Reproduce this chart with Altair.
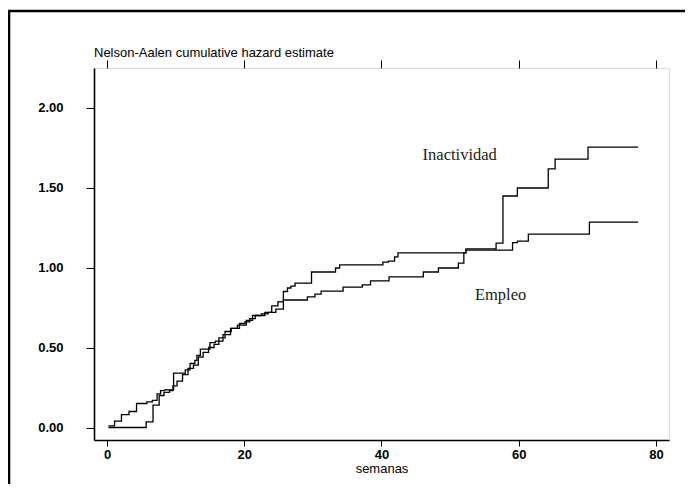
import altair as alt
import pandas as pd

# ---- data ----
inac_wk = [0.2, 1.1, 2.1, 3.2, 4.3, 5.8, 6.6, 7.3, 7.8, 8.4, 9.7, 11.4, 12.1, 12.8, 13.1, 13.6, 15.0, 15.8, 16.9, 18.0,
           19.0, 20.3, 21.2, 23.0, 24.0, 24.9, 25.7, 29.2, 30.3, 31.2, 34.4, 37.2, 38.4, 41.1, 46.1, 48.3, 51.2, 52.0, 52.3, 56.7,
           57.7, 59.8, 64.3, 65.3, 70.1, 77.4]
inac_hz = [0.01, 0.04, 0.08, 0.10, 0.15, 0.16, 0.17, 0.21, 0.23, 0.235, 0.34, 0.36, 0.40, 0.42, 0.45, 0.49, 0.53, 0.54, 0.58, 0.62,
           0.64, 0.67, 0.70, 0.72, 0.76, 0.785, 0.797, 0.816, 0.834, 0.853, 0.878, 0.891, 0.916, 0.941, 0.972, 0.997, 1.028, 1.091, 1.116, 1.153,
           1.447, 1.497, 1.616, 1.678, 1.753, 1.753]

emp_wk = [0.2, 5.7, 6.7, 7.6, 8.3, 9.1, 9.6, 10.2, 11.0, 11.8, 12.6, 13.3, 14.0, 14.8, 15.6, 16.3, 17.2, 18.1, 19.3, 20.1,
          20.8, 21.6, 22.5, 23.5, 24.6, 25.7, 26.3, 26.8, 27.4, 29.8, 33.3, 33.9, 40.2, 41.0, 41.9, 42.4, 52.3, 59.1, 59.8, 61.4,
          70.3, 77.4]
emp_hz = [0.0, 0.035, 0.14, 0.20, 0.22, 0.23, 0.26, 0.29, 0.33, 0.37, 0.39, 0.44, 0.47, 0.50, 0.52, 0.56, 0.60, 0.62, 0.65, 0.66,
          0.68, 0.70, 0.71, 0.72, 0.74, 0.85, 0.872, 0.884, 0.903, 0.972, 0.997, 1.016, 1.034, 1.040, 1.066, 1.091, 1.109, 1.155, 1.165, 1.209,
          1.284, 1.284]

label_text = ["Inactividad", "Empleo"]
label_wk = [51.4, 57.35]
label_hz = [1.672, 0.797]

title_text = ["Nelson-Aalen cumulative hazard estimate"]

x_ticks = [0, 20, 40, 60, 80]
y_ticks = [0, 0.5, 1.0, 1.5, 2.0]

lines = pd.concat([
    pd.DataFrame({"wk": inac_wk, "hz": inac_hz, "serie": "Inactividad"}),
    pd.DataFrame({"wk": emp_wk, "hz": emp_hz, "serie": "Empleo"}),
])
labels = pd.DataFrame({"wk": label_wk, "hz": label_hz, "txt": label_text})

SANS = "Liberation Sans"
xscale = alt.Scale(domain=[-1.9, 81.9], nice=False, zero=False)
yscale = alt.Scale(domain=[-0.078, 2.247], nice=False, zero=False)

y_axis = alt.Axis(
    orient="left", values=y_ticks, format=".2f", title=None,
    labelFont=SANS, labelFontSize=13, labelFontWeight="bold", labelColor="black",
    labelPadding=23, tickSize=8, tickColor="black", domainColor="black", domainWidth=1.6,
    grid=False)

line_layer = alt.Chart(lines).mark_line(interpolate="step-after", color="black", strokeWidth=1.3).encode(
    x=alt.X("wk:Q", scale=xscale, axis=alt.Axis(
        orient="bottom", values=x_ticks, format="d", title="semanas",
        labelFont=SANS, labelFontSize=13, labelFontWeight="bold", labelColor="black",
        labelPadding=2, tickSize=6, tickColor="black", domainColor="black", domainWidth=1.6,
        titleFont=SANS, titleFontSize=13, titleFontWeight="normal", titleColor="black", titlePadding=1,
        grid=False)),
    y=alt.Y("hz:Q", scale=yscale, axis=y_axis),
    detail="serie:N",
)

text_layer = alt.Chart(labels).mark_text(font="Liberation Serif", fontSize=16.5, color="#222",
                                         align="center", baseline="alphabetic").encode(
    x=alt.X("wk:Q", scale=xscale, axis=alt.Axis(
        orient="top", values=x_ticks, labels=False, title=None, domain=False,
        tickSize=8, tickColor="black", grid=False)),
    y=alt.Y("hz:Q", scale=yscale, axis=y_axis),
    text="txt:N",
)

title_layer = alt.Chart(pd.DataFrame({"t": title_text})).mark_text(
    font=SANS, fontSize=13, color="black", align="left", baseline="alphabetic", clip=False).encode(
    x=alt.value(0), y=alt.value(-11), text="t:N")

frame = alt.Chart(pd.DataFrame({"a": [0]})).mark_rect(
    filled=False, stroke="black", strokeWidth=2.6, clip=False).encode(
    x=alt.value(-85), x2=alt.value(700), y=alt.value(-57), y2=alt.value(700))

chart = alt.layer(frame, line_layer, text_layer, title_layer).resolve_axis(x="independent").properties(
    width=575, height=372,
    autosize=alt.AutoSizeParams(type="none"),
    padding={"left": 86, "top": 60, "right": 16, "bottom": 44},
).configure_view(stroke="#555", strokeWidth=1).configure(background="white")

chart.save("out.html", embed_options={"renderer": "svg", "actions": False})
